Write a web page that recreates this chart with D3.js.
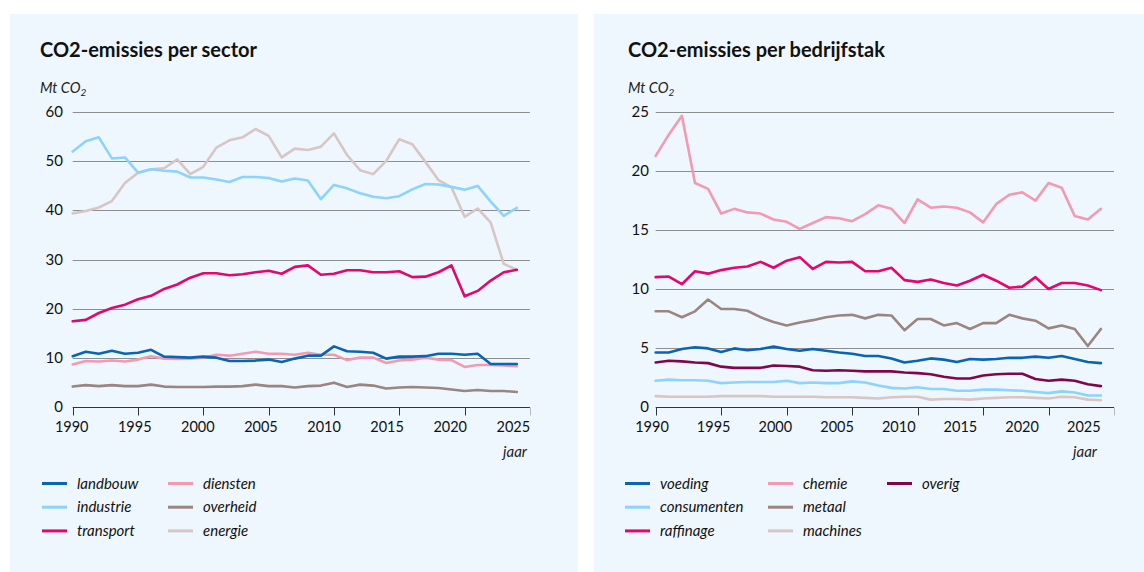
<!DOCTYPE html>
<html><head><meta charset="utf-8">
<script src="https://cdn.jsdelivr.net/npm/d3@7"></script>
<style>
body{margin:0;background:#fff;}
svg{display:block;font-family:Lato,"Open Sans",sans-serif;}
</style></head>
<body><svg id="c" width="1144" height="572"></svg>
<script>
const years = d3.range(1990, 2025);
const xTicks = [1990,1995,2000,2005,2010,2015,2020,2025];

// Left: per sector
const sectorNames = ["landbouw","industrie","transport","diensten","overheid","energie"];
const landbouw = [10.3,11.2,10.8,11.4,10.8,11.0,11.6,10.2,10.1,10.0,10.2,10.0,9.3,9.3,9.4,9.6,9.1,9.8,10.4,10.4,12.3,11.3,11.2,11.0,9.8,10.2,10.2,10.3,10.8,10.8,10.6,10.8,8.7,8.7,8.7];
const industrie = [52.0,54.1,54.9,50.6,50.8,47.7,48.4,48.1,47.9,46.7,46.7,46.3,45.8,46.8,46.8,46.6,45.9,46.5,46.1,42.3,45.2,44.5,43.5,42.8,42.5,42.9,44.3,45.4,45.3,44.8,44.2,45.0,41.8,38.9,40.5];
const transport = [17.4,17.7,19.1,20.1,20.8,21.9,22.6,24.0,24.9,26.3,27.2,27.2,26.8,27.0,27.4,27.7,27.1,28.5,28.8,26.9,27.1,27.8,27.8,27.4,27.4,27.6,26.4,26.5,27.4,28.8,22.5,23.6,25.7,27.4,27.9];
const diensten = [8.6,9.3,9.2,9.4,9.2,9.6,10.3,9.8,9.75,9.8,10.0,10.6,10.4,10.8,11.2,10.8,10.8,10.6,11.0,10.6,10.6,9.5,10.0,10.0,8.9,9.4,9.6,10.0,9.6,9.5,8.1,8.5,8.5,8.4,8.25];
const overheid = [4.1,4.4,4.2,4.4,4.2,4.2,4.5,4.1,4.0,4.0,4.0,4.1,4.1,4.2,4.5,4.2,4.2,3.9,4.2,4.3,4.9,4.0,4.5,4.3,3.7,3.9,4.0,3.9,3.8,3.5,3.2,3.4,3.2,3.2,3.0];
const energie = [39.4,39.9,40.6,41.9,45.6,47.7,48.4,48.6,50.4,47.4,48.9,52.8,54.3,54.9,56.6,55.2,50.8,52.6,52.3,53.0,55.7,51.3,48.2,47.4,50.1,54.5,53.5,49.9,46.2,44.7,38.7,40.4,37.5,29.1,27.9];
const leftYTicks = [0,10,20,30,40,50,60];

// Right: per bedrijfstak
const branchNames = ["voeding","consumenten","raffinage","chemie","metaal","machines","overig"];
const voeding = [4.6,4.6,4.9,5.05,4.95,4.65,4.95,4.8,4.9,5.1,4.9,4.75,4.9,4.75,4.6,4.5,4.3,4.3,4.1,3.75,3.9,4.1,4.0,3.8,4.05,4.0,4.05,4.15,4.15,4.25,4.15,4.3,4.05,3.8,3.7];
const consumenten = [2.2,2.3,2.25,2.25,2.2,2.0,2.05,2.1,2.1,2.1,2.2,2.0,2.05,2.0,2.0,2.15,2.05,1.8,1.6,1.55,1.65,1.5,1.5,1.35,1.35,1.45,1.45,1.4,1.35,1.25,1.15,1.3,1.2,0.95,0.95];
const raffinage = [11.0,11.05,10.4,11.5,11.3,11.6,11.8,11.9,12.3,11.8,12.4,12.7,11.7,12.3,12.25,12.3,11.5,11.5,11.8,10.75,10.6,10.8,10.5,10.3,10.7,11.2,10.7,10.1,10.2,11.0,10.0,10.5,10.5,10.3,9.9];
const chemie = [21.3,23.1,24.7,19.0,18.5,16.4,16.8,16.5,16.4,15.9,15.7,15.1,15.6,16.1,16.0,15.75,16.35,17.1,16.8,15.6,17.6,16.9,17.0,16.9,16.5,15.65,17.2,18.0,18.2,17.5,19.0,18.6,16.2,15.9,16.8];
const metaal = [8.1,8.1,7.6,8.1,9.1,8.3,8.3,8.15,7.6,7.2,6.9,7.15,7.35,7.6,7.75,7.8,7.5,7.8,7.75,6.5,7.45,7.45,6.9,7.1,6.6,7.1,7.1,7.8,7.5,7.3,6.65,6.9,6.6,5.15,6.6];
const machines = [0.9,0.85,0.85,0.85,0.85,0.9,0.9,0.9,0.9,0.85,0.85,0.85,0.85,0.8,0.8,0.8,0.75,0.7,0.8,0.85,0.85,0.6,0.65,0.65,0.6,0.7,0.75,0.8,0.8,0.75,0.7,0.85,0.8,0.6,0.55];
const overig = [3.75,3.9,3.85,3.75,3.7,3.4,3.3,3.3,3.3,3.5,3.45,3.4,3.1,3.05,3.1,3.05,3.0,3.0,3.0,2.9,2.85,2.75,2.55,2.4,2.4,2.65,2.75,2.8,2.8,2.35,2.2,2.3,2.2,1.9,1.75];
const rightYTicks = [0,5,10,15,20,25];

const C = {
  darkblue:"#0a64b2", lightblue:"#8dd3fb", magenta:"#e3066f",
  pink:"#f39ab2", brown:"#9a8580", lightgrey:"#d8c6c4", purple:"#80064c"
};
const BG = "#eef7fd";

const svg = d3.select("#c");
svg.append("rect").attr("x",10).attr("y",14).attr("width",568).attr("height",558).attr("fill",BG);
svg.append("rect").attr("x",594).attr("y",14).attr("width",550).attr("height",558).attr("fill",BG);

function panel(o){
  const g = svg.append("g");
  const x = d3.scaleLinear().domain([1990,2025]).range([o.x0,o.x1]);
  const xl = d3.scaleLinear().domain([1990,2025]).range([o.lx0,o.lx1]);
  const y = d3.scaleLinear().domain([0,o.ymax]).range([406.7,112.3]);
  // title
  g.append("text").attr("x",o.tx).attr("y",57).attr("font-size",20).attr("font-weight",700)
    .attr("fill","#111").text(o.title);
  const u = g.append("text").attr("x",o.tx).attr("y",93).attr("font-size",14.5).attr("font-style","italic").attr("fill","#222");
  u.append("tspan").text("Mt CO");
  u.append("tspan").attr("font-size",10).attr("dy",3).text("2");
  // grid
  g.selectAll("line.grid").data(o.yticks.filter(d=>d>0)).join("line")
    .attr("x1",o.x0).attr("x2",o.x1)
    .attr("y1",d=>Math.round(y(d))+0.5).attr("y2",d=>Math.round(y(d))+0.5)
    .attr("stroke","#8c8f92").attr("stroke-width",1);
  // y labels
  g.selectAll("text.yl").data(o.yticks).join("text")
    .attr("x",o.ylx).attr("y",d=>y(d)+5).attr("text-anchor","end")
    .attr("font-size",15).attr("fill","#111").text(d=>d);
  // baseline + ticks
  const base = Math.round(y(0))+0.5;
  g.append("line").attr("x1",o.x0).attr("x2",o.x1).attr("y1",base).attr("y2",base)
    .attr("stroke","#333").attr("stroke-width",1);
  g.selectAll("line.xt").data(xTicks).join("line")
    .attr("x1",d=>Math.round(x(d))+0.5).attr("x2",d=>Math.round(x(d))+0.5)
    .attr("y1",base).attr("y2",base+8).attr("stroke",d=>d===2025?"#bbb":"#333");
  g.selectAll("text.xl").data(xTicks).join("text")
    .attr("x",d=>xl(d)).attr("y",432).attr("text-anchor","middle")
    .attr("font-size",14.5).attr("fill","#111").text(d=>d);
  g.append("text").attr("x",o.jx).attr("y",457).attr("text-anchor","end")
    .attr("font-size",15).attr("font-style","italic").attr("fill","#222").text("jaar");
  // lines
  const line = d3.line().x((d,i)=>x(years[i])).y(d=>y(d));
  o.series.forEach(s=>{
    g.append("path").attr("d",line(s.values)).attr("fill","none")
      .attr("stroke",s.color).attr("stroke-width",2.6).attr("stroke-linejoin","round").attr("stroke-linecap","round");
  });
  // legend
  o.legend.forEach(s=>{
    const ly = 483.5 + s.row*23.7;
    g.append("line").attr("x1",s.lx).attr("x2",s.lx+25).attr("y1",ly).attr("y2",ly)
      .attr("stroke",s.color).attr("stroke-width",3);
    g.append("text").attr("x",s.lx+35).attr("y",ly+5).attr("font-size",15).attr("font-style","italic")
      .attr("fill","#111").text(s.name);
  });
}

const LC = [C.darkblue,C.lightblue,C.magenta,C.pink,C.brown,C.lightgrey];
const leftVals = [landbouw,industrie,transport,diensten,overheid,energie];
panel({
  title:"CO2-emissies per sector", tx:40, x0:72.7, x1:529.9, lx0:71.7, lx1:513.3, ylx:63, jx:527,
  ymax:60, yticks:leftYTicks,
  series:[5,4,3,0,1,2].map(i=>({values:leftVals[i],color:LC[i]})),
  legend:sectorNames.map((n,i)=>({name:n,color:LC[i],row:i%3,lx:i<3?42:168}))
});

const RC = [C.darkblue,C.lightblue,C.magenta,C.pink,C.brown,C.lightgrey,C.purple];
const rightVals = [voeding,consumenten,raffinage,chemie,metaal,machines,overig];
panel({
  title:"CO2-emissies per bedrijfstak", tx:628, x0:655.7, x1:1114, lx0:652, lx1:1083.8, ylx:649, jx:1097,
  ymax:25, yticks:rightYTicks,
  series:[5,1,6,0,4,2,3].map(i=>({values:rightVals[i],color:RC[i]})),
  legend:branchNames.map((n,i)=>({name:n,color:RC[i],row:i%3,lx:i<3?625:(i<6?768:887)}))
});
</script></body></html>
